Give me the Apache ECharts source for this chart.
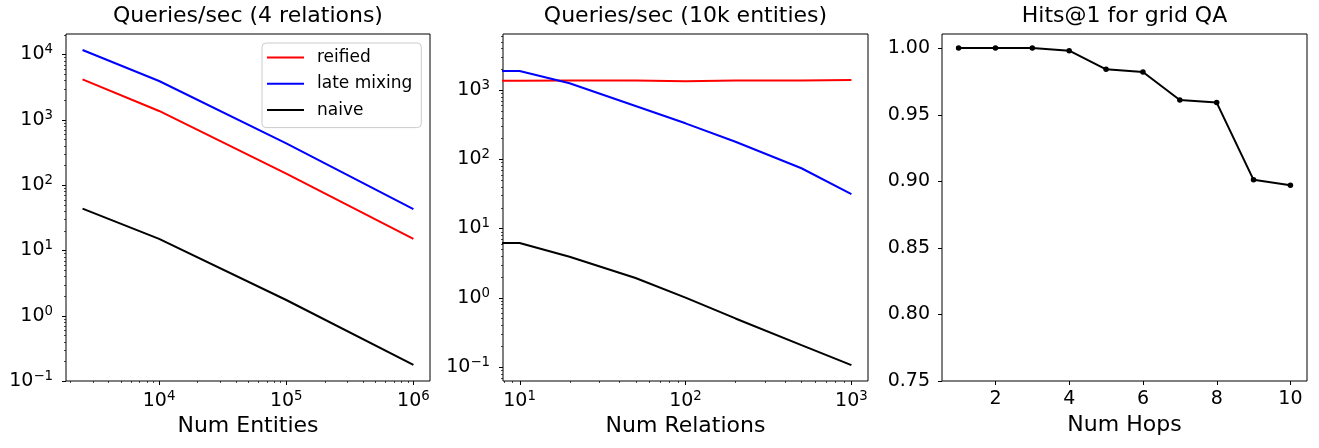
<!DOCTYPE html>
<html>
<head>
<meta charset="utf-8">
<script src="https://cdn.jsdelivr.net/npm/echarts@6/dist/echarts.min.js"></script>
<style>html,body{margin:0;padding:0;background:#fff}#c{width:1319px;height:448px}</style>
</head>
<body>
<div id="c"></div>
<script>
// ---------- data ----------
const titles = ['Queries/sec (4 relations)', 'Queries/sec (10k entities)', 'Hits@1 for grid QA'];
const xNames = ['Num Entities', 'Num Relations', 'Num Hops'];
const seriesNames = ['reified', 'late mixing', 'naive'];
const seriesColors = ['#ff0000', '#0000ff', '#000000'];

// panel 1: queries/sec vs number of entities (4 relations)
const entities = [2500, 10000, 100000, 1000000];
const p1Reified = [4170, 1365, 150, 15];
const p1Late = [11700, 3930, 437, 43];
const p1Naive = [43.6, 15, 1.74, 0.176];

// panel 2: queries/sec vs number of relations (10k entities)
const relations = [1, 10, 20, 50, 100, 200, 500, 1000];
const p2Reified = [1365, 1365, 1370, 1375, 1340, 1370, 1375, 1395];
const p2Late = [1885, 1885, 1250, 588, 330, 179, 74, 31.4];
const p2Naive = [6.15, 6.15, 3.9, 1.92, 1.0, 0.5, 0.206, 0.106];

// panel 3: hits@1 vs number of hops
const hops = [1, 2, 3, 4, 5, 6, 7, 8, 9, 10];
const hits = [1.000, 1.000, 1.000, 0.998, 0.984, 0.982, 0.961, 0.959, 0.901, 0.897];

// axis ranges
const p1X = [1853, 1.35e6], p1Y = [0.1, 20600];
const p2X = [7.943, 1259], p2Y = [0.0624, 6442];
const p3X = [0.55, 10.45], p3Y = [0.75, 1.0105];
const p3XTicks = [2, 4, 6, 8, 10];
const p3YTicks = [0.75, 0.80, 0.85, 0.90, 0.95, 1.00];

// ---------- helpers ----------
const FONT = 'DejaVu Sans';
function majors(lo, hi) {
  const out = [];
  for (let k = Math.floor(Math.log10(lo)); k <= Math.ceil(Math.log10(hi)); k++) {
    const v = Math.pow(10, k);
    if (v >= lo * 0.9999 && v <= hi * 1.0001) out.push(v);
  }
  return out;
}
function minors(lo, hi) {
  const out = [];
  for (let k = Math.floor(Math.log10(lo)) - 1; k <= Math.ceil(Math.log10(hi)); k++) {
    for (let m = 2; m <= 9; m++) {
      const v = m * Math.pow(10, k);
      if (v > lo * 1.0001 && v < hi / 1.0001) out.push(v);
    }
  }
  return out;
}
function logLabel(v) {
  const e = Math.log10(v), r = Math.round(e);
  if (Math.abs(e - r) > 1e-6) return '';
  return '{b|10}{s|' + (r < 0 ? '\u2212' + (-r) : r) + '}';
}
const logRich = {
  b: { fontSize: 19, fontFamily: FONT, color: '#000', lineHeight: 22 },
  s: { fontSize: 13.3, fontFamily: FONT, color: '#000', lineHeight: 11, verticalAlign: 'top' }
};
function tickSeries(gi, axis, values, edge, len) {
  return {
    type: 'custom', xAxisIndex: gi, yAxisIndex: gi, silent: true, z: 10, clip: false,
    data: values.map(v => axis === 'y' ? [edge, v] : [v, edge]),
    renderItem: (params, api) => {
      const p = api.coord([api.value(0), api.value(1)]);
      const pts = axis === 'y'
        ? [[Math.round(p[0]) - len, Math.round(p[1]) + 0.5], [Math.round(p[0]), Math.round(p[1]) + 0.5]]
        : [[Math.round(p[0]) + 0.5, Math.round(p[1])], [Math.round(p[0]) + 0.5, Math.round(p[1]) + len]];
      return { type: 'polyline', shape: { points: pts }, style: { stroke: '#000', lineWidth: len > 3 ? 1 : 0.7 } };
    }
  };
}
function zip(xs, ys) { return xs.map((x, i) => [x, ys[i]]); }
function lineSeries(gi, name, color, xs, ys, extra) {
  return Object.assign({
    type: 'line', name: name, xAxisIndex: gi, yAxisIndex: gi,
    data: zip(xs, ys), symbol: 'none', lineStyle: { color: color, width: 2 },
    itemStyle: { color: color }, z: 5
  }, extra || {});
}

const grids = [
  { left: 66, top: 34, width: 364, height: 347 },
  { left: 503, top: 34, width: 365, height: 347 },
  { left: 942, top: 34, width: 365, height: 347 }
].map(g => Object.assign(g, { show: true, borderColor: '#000', borderWidth: 1, backgroundColor: 'transparent' }));

function xAxisCfg(gi, type, range, fmt, rich, margin) {
  return {
    gridIndex: gi, type: type, min: range[0], max: range[1],
    name: xNames[gi], nameLocation: 'middle', nameGap: 31,
    nameTextStyle: { fontSize: 22, fontFamily: FONT, color: '#000' },
    axisLine: { show: false }, axisTick: { show: false }, splitLine: { show: false },
    axisLabel: { formatter: fmt, rich: rich, margin: margin, fontSize: 19, fontFamily: FONT, color: '#000' }
  };
}
function yAxisCfg(gi, type, range, fmt, rich, margin, extra) {
  return Object.assign({
    gridIndex: gi, type: type, min: range[0], max: range[1],
    axisLine: { show: false }, axisTick: { show: false }, splitLine: { show: false },
    axisLabel: { formatter: fmt, rich: rich, margin: margin, fontSize: 19, fontFamily: FONT, color: '#000' }
  }, extra || {});
}

const fmtY3 = v => { const q = v / 0.05; return Math.abs(q - Math.round(q)) < 1e-6 ? v.toFixed(2) : ''; };
const fmtX3 = v => (Math.abs(v - Math.round(v)) < 1e-6 && Math.round(v) % 2 === 0) ? String(Math.round(v)) : '';

const series = [
  lineSeries(0, seriesNames[0], seriesColors[0], entities, p1Reified),
  lineSeries(0, seriesNames[1], seriesColors[1], entities, p1Late),
  lineSeries(0, seriesNames[2], seriesColors[2], entities, p1Naive),
  lineSeries(1, seriesNames[0], seriesColors[0], relations, p2Reified),
  lineSeries(1, seriesNames[1], seriesColors[1], relations, p2Late),
  lineSeries(1, seriesNames[2], seriesColors[2], relations, p2Naive),
  lineSeries(2, 'hits', '#000000', hops, hits, { symbol: 'circle', symbolSize: 5.5, showSymbol: true }),
  // ticks
  tickSeries(0, 'y', majors(p1Y[0], p1Y[1]), p1X[0], 4),
  tickSeries(0, 'y', minors(p1Y[0], p1Y[1]), p1X[0], 2),
  tickSeries(0, 'x', majors(p1X[0], p1X[1]), p1Y[0], 4),
  tickSeries(0, 'x', minors(p1X[0], p1X[1]), p1Y[0], 2),
  tickSeries(1, 'y', majors(p2Y[0], p2Y[1]), p2X[0], 4),
  tickSeries(1, 'y', minors(p2Y[0], p2Y[1]), p2X[0], 2),
  tickSeries(1, 'x', majors(p2X[0], p2X[1]), p2Y[0], 4),
  tickSeries(1, 'x', minors(p2X[0], p2X[1]), p2Y[0], 2),
  tickSeries(2, 'y', p3YTicks, p3X[0], 4),
  tickSeries(2, 'x', p3XTicks, p3Y[0], 4)
];

const option = {
  animation: false,
  backgroundColor: '#fff',
  title: titles.map((t, i) => ({
    text: t, left: grids[i].left + grids[i].width / 2, top: 5, textAlign: 'center', padding: 0,
    textStyle: { fontSize: 22, fontWeight: 'normal', fontFamily: FONT, color: '#000' }
  })),
  legend: {
    data: seriesNames, orient: 'vertical', left: 262, top: 43,
    icon: 'rect', itemWidth: 37, itemHeight: 2, itemGap: 9.3,
    padding: [6, 9, 9, 5],
    borderColor: '#cccccc', borderWidth: 1, borderRadius: 4, backgroundColor: 'rgba(255,255,255,0.8)',
    textStyle: { fontSize: 17, fontFamily: FONT, color: '#000', lineHeight: 17, padding: [0, 0, 0, 8] },
    selectedMode: false
  },
  grid: grids,
  xAxis: [
    xAxisCfg(0, 'log', p1X, logLabel, logRich, 9),
    xAxisCfg(1, 'log', p2X, logLabel, logRich, 9),
    Object.assign(xAxisCfg(2, 'value', p3X, fmtX3, null, 9), { splitNumber: 5 })
  ],
  yAxis: [
    yAxisCfg(0, 'log', p1Y, logLabel, logRich, 13),
    yAxisCfg(1, 'log', p2Y, logLabel, logRich, 13),
    yAxisCfg(2, 'value', p3Y, fmtY3, null, 12, { interval: 0.05 })
  ],
  series: series
};

const chart = echarts.init(document.getElementById('c'), null, { renderer: 'canvas' });
chart.setOption(option);
</script>
</body>
</html>
